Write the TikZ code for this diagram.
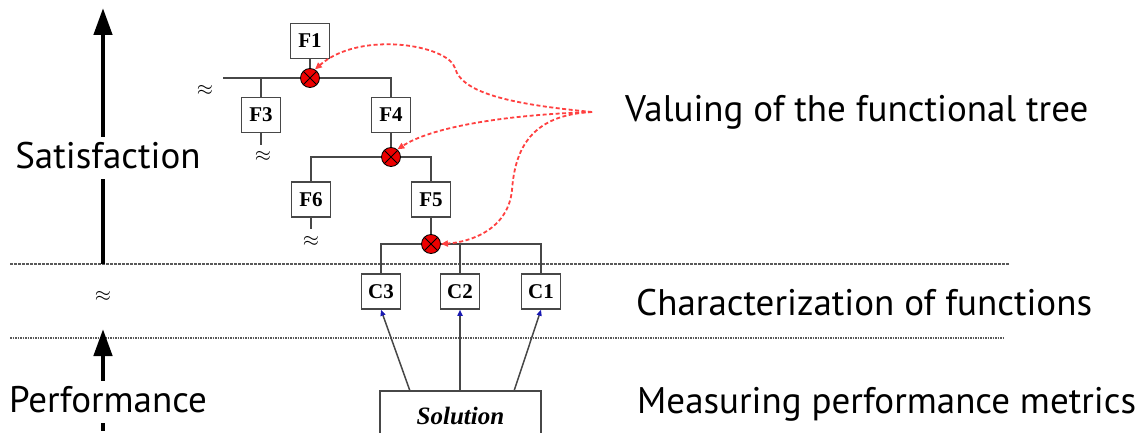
\documentclass[tikz,border=0pt]{standalone}
\usepackage{fontspec}
\setmainfont{Liberation Serif}
\newfontfamily\labelfont{PT Sans}
\definecolor{treegray}{rgb}{0.28, 0.28, 0.28}
\definecolor{sepgray}{rgb}{0.35, 0.35, 0.35}
\definecolor{jred}{rgb}{0.93, 0.0, 0.0}
\definecolor{valred}{rgb}{1.0, 0.25, 0.25}
\definecolor{tipblue}{rgb}{0.1, 0.1, 0.7}
\usetikzlibrary{arrows.meta,positioning}

\tikzset{
	fbox/.style={draw=treegray, line width=1.5, fill=white, minimum width=39, minimum height=35, inner sep=0, font=\bfseries\fontsize{21}{21}\selectfont},
	solbox/.style={draw=treegray, line width=1.5, fill=white, minimum width=161, minimum height=50, inner sep=0, font=\bfseries\itshape\fontsize{25}{25}\selectfont},
	junction/.style={circle, draw=black, line width=0.8, fill=jred, minimum size=19, inner sep=0,
		path picture={\draw[black, line width=0.8] (path picture bounding box.south west) -- (path picture bounding box.north east) (path picture bounding box.north west) -- (path picture bounding box.south east);}},
	tree/.style={draw=treegray, line width=1.6},
	metric/.style={draw=treegray, line width=1.5, -{Triangle[length=6, width=5, color=tipblue]}},
	valuing/.style={draw=valred, line width=1.8, dash pattern={on 4pt off 2.5pt}, -{Triangle[length=7, width=6]}},
	bigtext/.style={font=\labelfont\fontsize{37}{40}\selectfont, inner sep=0, anchor=base},
	axislabel/.style={bigtext, text height=27, text depth=7, inner sep=4},
	axisarrow/.style={line width=4.5, -{Triangle[length=27, width=18]}},
	axisline/.style={line width=4.5},
	approx/.style={font=\fontsize{22}{22}\selectfont, inner sep=0},
	septhick/.style={draw=sepgray, line width=2.2, dash pattern={on 3pt off 1pt}},
	septhin/.style={draw=sepgray, line width=1.6, dash pattern={on 1.5pt off 1pt}},
}

\begin{document}
\begin{tikzpicture}[x=1pt,y=1pt,yscale=-1]
	\useasboundingbox (0,0) rectangle (1146,433);
	
	%Separators
	\coordinate (d1w) at (10,264);
	\coordinate (d1e) at (1010,264);
	\coordinate (d2w) at (10,338);
	\coordinate (d2e) at (1005,338);
	\draw [septhick] (d1w) -- (d1e);
	\draw [septhin] (d2w) -- (d2e);
	
	%Axis labels and arrows
	\node [axislabel] (sat) at (108,168) {Satisfaction};
	\node [axislabel] (perf) at (108,412) {Performance};
	\coordinate (satHead) at (103,8);
	\coordinate (perfHead) at (103,329);
	\coordinate (perfFoot) at (103,431);
	\draw [axisarrow] (satHead |- sat.north) -- (satHead);
	\draw [axisline] (d1w -| satHead) -- (satHead |- sat.south);
	\draw [axisarrow] (perfHead |- perf.north) -- (perfHead);
	\draw [axisline] (perfHead |- perf.south) -- (perfFoot);
	\node [approx] (gap) at (103,296) {$\approx$};
	
	%Functional tree
	\node [fbox] (F1) at (310,41) {F1};
	\node [junction] (J1) at (310,78) {};
	\node [fbox] (F3) at (261,115) {F3};
	\node [fbox] (F4) at (391,115) {F4};
	\node [junction] (J2) at (391,157) {};
	\node [fbox] (F6) at (311,199.5) {F6};
	\node [fbox] (F5) at (431,199.5) {F5};
	\node [junction] (J3) at (431,244) {};
	\node [fbox] (C3) at (381,291.5) {C3};
	\node [fbox] (C2) at (460,291.5) {C2};
	\node [fbox] (C1) at (541,291.5) {C1};
	\node [solbox] (sol) at (460.5,416) {Solution};
	
	\coordinate (L1) at (223,78);
	\coordinate (F3end) at (261,145);
	\coordinate (F6end) at (311,229);
	\draw [tree] (F1) -- (J1);
	\draw [tree] (J1) -- (L1);
	\draw [tree] (F3) |- (J1);
	\draw [tree] (F4) |- (J1);
	\draw [tree] (F3) -- (F3end);
	\draw [tree] (F4) -- (J2);
	\draw [tree] (F6) |- (J2);
	\draw [tree] (F5) |- (J2);
	\draw [tree] (F6) -- (F6end);
	\draw [tree] (F5) -- (J3);
	\draw [tree] (C3) |- (J3);
	\draw [tree] (C2) |- (J3);
	\draw [tree] (C1) |- (J3);
	\node [approx] (gapL1) at (205,90) {$\approx$};
	\node [approx] (gapF3) at (263,156) {$\approx$};
	\node [approx] (gapF6) at (311,241) {$\approx$};
	
	%Performance metrics
	\coordinate (s3) at (410,391);
	\coordinate (s2) at (460,391);
	\coordinate (s1) at (514,391);
	\draw [metric] (s3) -- (C3.south);
	\draw [metric] (s2) -- (C2.south);
	\draw [metric] (s1) -- (C1.south);
	
	%Valuing curves
	\coordinate (src) at (592,112);
	\draw [valuing] (src) .. controls (520,105) and (462,95) .. (455,68) .. controls (448,45) and (360,30) .. (J1.60);
	\draw [valuing] (src) .. controls (500,115) and (430,128) .. (J2.50);
	\draw [valuing] (src) .. controls (530,115) and (515,150) .. (512,190) .. controls (508,230) and (470,242) .. (J3.east);
	
	% Text Node
	\node [bigtext, anchor=base west] (val) at (625,122) {Valuing of the functional tree};
	% Text Node
	\node [bigtext, anchor=base west] (chr) at (636,315) {Characterization of functions};
	% Text Node
	\node [bigtext, anchor=base west] (mes) at (637,413) {Measuring performance metrics};
\end{tikzpicture}
\end{document}
